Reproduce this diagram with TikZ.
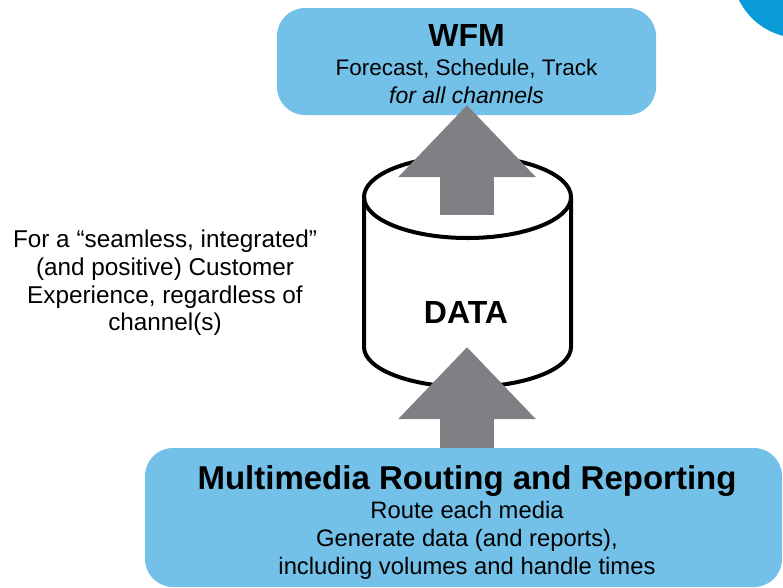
\documentclass[tikz,border=0pt]{standalone}
\usepackage{fontspec}
\setmainfont{Liberation Sans}
\usetikzlibrary{arrows.meta}
\definecolor{boxblue}{HTML}{73C1E8}
\definecolor{cornerblue}{HTML}{0A9AD7}
\definecolor{arrowgray}{HTML}{808084}
\newcommand{\fsz}[1]{\fontsize{#1}{#1}\selectfont}
\begin{document}
\begin{tikzpicture}[x=1pt,y=-1pt,
  panel/.style={fill=boxblue, draw=none, rounded corners=28pt, inner sep=0pt},
  blockarrow/.style={draw=arrowgray, line width=54pt,
    -{Triangle[width=133pt,length=72pt]}},
  dbline/.style={draw=black, line width=4pt},
  title/.style={anchor=base, font=\bfseries\fsz{32}},
  body/.style={anchor=base, font=\fsz{23.8}},
  every node/.append style={text=black}]
\useasboundingbox (0,0) rectangle (783,587);

% corner disc
\fill[cornerblue] (800,-30) circle[radius=68];

% the two panels
\node[panel, minimum width=379pt, minimum height=107pt] (wfm) at (466.5,61.5) {};
\node[panel, minimum width=637pt, minimum height=139pt] (mmr) at (463.5,517.5) {};

% database cylinder
\filldraw[dbline, fill=white] (364,197) -- (364,347)
  arc[start angle=180, end angle=0, x radius=103.5, y radius=40]
  -- (571,197)
  arc[start angle=0, end angle=-180, x radius=103.5, y radius=41] -- cycle;
\draw[dbline] (364,197) arc[start angle=180, end angle=0, x radius=103.5, y radius=41];
\node[title, font=\bfseries\fsz{32}] (data) at (466,323) {DATA};

% block arrows
\coordinate (dbtop) at (467,215);
\coordinate (dbbase) at (467,347);
\coordinate (mmrtop) at (467,448);
\coordinate (wfmtip) at (467,105);
\draw[blockarrow] (dbtop) -- (wfmtip);
\draw[blockarrow] (mmrtop) -- (dbbase);

% WFM panel text
\node[title] (wfmtitle) at (466.5,46) {WFM};
\node[body, font=\fsz{22.5}] (wfmone) at (466.5,75) {Forecast, Schedule, Track};
\node[body, font=\itshape\fsz{23}] (wfmtwo) at (466.5,103) {for all channels};

% routing panel text
\node[title, font=\bfseries\fsz{33}] (mmrtitle) at (467,489) {Multimedia Routing and Reporting};
\node[body] (mmrone) at (467,518) {Route each media};
\node[body] (mmrtwo) at (467,546) {Generate data (and reports),};
\node[body] (mmrthree) at (467,574) {including volumes and handle times};

% side remark
\node[body, font=\fsz{24.3}] (noteone) at (165,247) {For a “seamless, integrated”};
\node[body, font=\fsz{24.3}] (notetwo) at (165,275) {(and positive) Customer};
\node[body, font=\fsz{24.3}] (notethree) at (165,303) {Experience, regardless of};
\node[body, font=\fsz{24.3}] (notefour) at (165,330) {channel(s)};
\end{tikzpicture}
\end{document}
